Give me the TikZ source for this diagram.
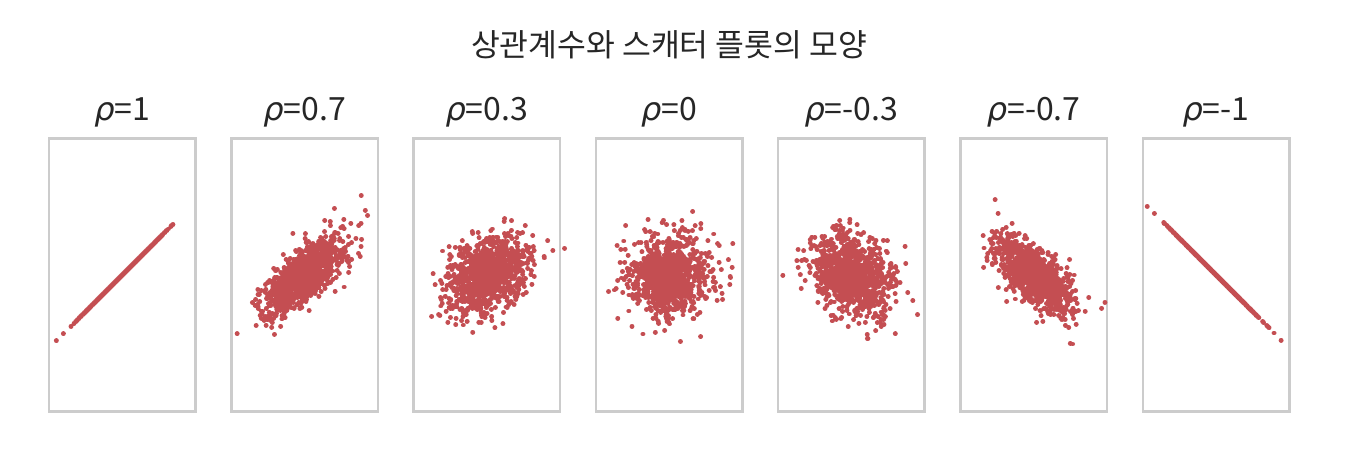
\documentclass[tikz,border=0pt]{standalone}
\usepackage{fontspec}
\newfontfamily\kr{Noto Sans CJK KR}
\newfontfamily\dv{DejaVu Sans}
\definecolor{dotred}{HTML}{C44E52}
\definecolor{frame}{HTML}{CCCCCC}
\definecolor{txt}{HTML}{262626}
\newcount\dotcnt
\tikzset{
  dotline/.style={draw=dotred, line width=3.7pt, line cap=round},
  panelbox/.style={draw=frame, line width=1.9pt, inner sep=0pt, minimum width=109.9pt, minimum height=204.45pt},
  paneltitle/.style={text=txt, font=\kr\fontsize{24}{28}\selectfont, inner sep=0pt, anchor=base},
  maintitle/.style={text=txt, font=\kr\fontsize{23.5}{28}\selectfont, inner sep=0pt, anchor=base}
}
\begin{document}
\begin{tikzpicture}[x=0.75pt,y=-0.75pt]
\useasboundingbox[fill=white] (0,0) rectangle (1370,462);
\node[maintitle] (title) at (669,56) {상관계수와 스캐터 플롯의 모양};
\pgfmathsetseed{12345}
\foreach \r/\lab [count=\k from 0] in {1/1,0.7/0.7,0.3/0.3,0/0,-0.3/-0.3,-0.7/-0.7,-1/-1} {
  \pgfmathsetmacro\cx{122.25+182.3*\k}
  \pgfmathsetmacro\s{sqrt(1-(\r)*(\r))}
  \node[panelbox] (box\k) at (\cx,275) {};
  \node[paneltitle] (lab\k) at (\cx,120.5) {{\dv\itshape ρ}=\lab};
  \begin{scope}[dotline]
    \dotcnt=0
    \loop
      \pgfmathsetmacro\ua{max(rnd,0.00001)}%
      \pgfmathsetmacro\ub{rnd}%
      \pgfmathsetmacro\ra{sqrt(-2*ln(\ua))}%
      \pgfmathsetmacro\za{\ra*cos(360*\ub)}%
      \pgfmathsetmacro\zb{\ra*sin(360*\ub)}%
      \pgfmathsetmacro\px{\cx+19.5*\za}%
      \pgfmathsetmacro\py{275-19.5*((\r)*\za+\s*\zb)}%
      \pgfpathmoveto{\pgfpointxy{\px}{\py}}%
      \pgfpathlineto{\pgfpointadd{\pgfpointxy{\px}{\py}}{\pgfqpoint{0.01pt}{0pt}}}%
      \advance\dotcnt by 1
    \ifnum\dotcnt<1000 \repeat
    \pgfusepath{stroke}
  \end{scope}
}
\end{tikzpicture}
\end{document}
